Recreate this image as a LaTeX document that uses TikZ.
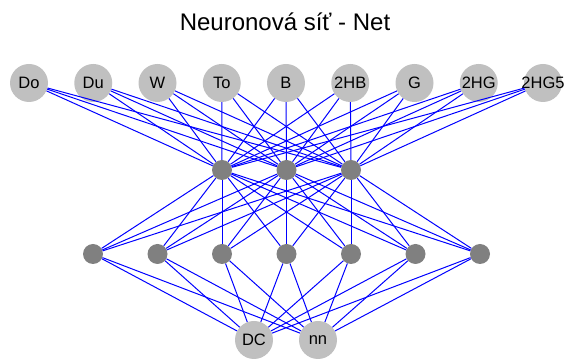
\documentclass[tikz,border=0pt]{standalone}
\usepackage{fontspec}
\setmainfont{Liberation Sans}
\usepackage{xcolor}
\definecolor{nodegray}{RGB}{192,192,192}
\definecolor{hiddengray}{RGB}{128,128,128}
\definecolor{linkblue}{RGB}{0,0,255}

\begin{document}
\begin{tikzpicture}[x=1pt,y=-1pt,
    ionode/.style={circle,fill=nodegray,minimum size=38pt,inner sep=0pt},
    hidnode/.style={circle,fill=hiddengray,minimum size=20pt,inner sep=0pt},
    link/.style={draw=linkblue,line width=1pt},
    every label/.style={font=\fontsize{16.5}{16.5}\selectfont,inner sep=0pt}]
	\useasboundingbox (0,0) rectangle (566,363);
	
	% Title
	\node[font=\fontsize{24}{24}\selectfont] (title) at (285,22) {Neuronová síť - Net};
	
	% Input layer
	\foreach \i/\lab in {1/Do, 2/Du, 3/W, 4/To, 5/B, 6/2HB, 7/G, 8/2HG, 9/2HG5} {
		\node[ionode,label=center:{\lab}] (in\i) at ({29+64.25*(\i-1)},83) {};
	}
	
	% Hidden layers
	\foreach \i in {1,2,3}
		\node[hidnode] (ha\i) at ({222+64.5*(\i-1)},170) {};
	\foreach \i in {1,...,7}
		\node[hidnode] (hb\i) at ({93+64.5*(\i-1)},254) {};
	
	% Output layer
	\node[ionode,label=center:DC] (out1) at (254,340) {};
	\node[ionode,label=center:nn] (out2) at (318,340) {};
	
	% Connections
	\foreach \i in {1,...,9}
		\foreach \j in {1,2,3}
			\draw[link] (in\i) -- (ha\j);
	\foreach \i in {1,2,3}
		\foreach \j in {1,...,7}
			\draw[link] (ha\i) -- (hb\j);
	\foreach \i in {1,...,7}
		\foreach \j in {1,2}
			\draw[link] (hb\i) -- (out\j);
\end{tikzpicture}
\end{document}
